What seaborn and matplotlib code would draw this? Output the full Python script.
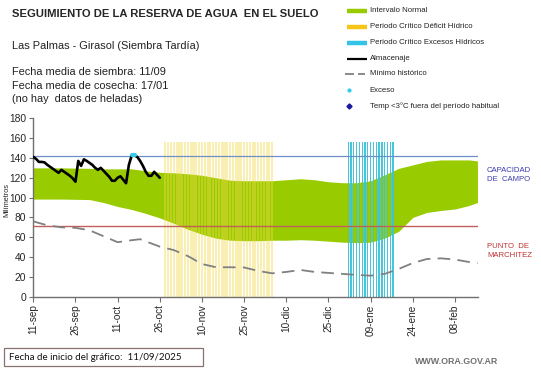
import matplotlib
matplotlib.use("Agg")
import matplotlib.pyplot as plt
from matplotlib.lines import Line2D
from matplotlib.patches import Rectangle
import seaborn as sns
import numpy as np
import pandas as pd

# ---------------- data ----------------
tick_days = [0, 15, 30, 45, 60, 75, 90, 105, 120, 135, 150]
tick_labels = ["11-sep", "26-sep", "11-oct", "26-oct", "10-nov", "25-nov",
               "10-dic", "25-dic", "09-ene", "24-ene", "08-feb"]

band_days = [0, 10, 20, 25, 30, 35, 40, 45, 50, 55, 60, 65, 70, 75, 80, 85, 90,
             95, 100, 105, 110, 115, 120, 125, 130, 135, 140, 145, 150, 155, 158]
band_upper = [130, 130, 129.5, 129, 129, 129, 127, 125.5, 125, 124, 122.5, 120,
              117.5, 117, 117, 117, 118, 119, 118, 116, 115, 115, 117, 123,
              129.5, 133, 136.5, 138, 138, 138, 137]
band_lower = [98.5, 98.5, 98, 95, 91, 88, 84, 79.5, 74, 68, 63, 59, 57, 56.5,
              56.5, 57, 57, 57.5, 57, 56, 55, 54.5, 55, 59, 66, 80, 85, 87,
              88.5, 92, 95]

min_days = [0, 5, 10, 15, 20, 25, 30, 35, 38, 45, 50, 55, 60, 65, 70, 75, 80,
            85, 90, 95, 100, 105, 110, 115, 120, 125, 130, 135, 140, 145, 150,
            155, 158]
min_hist = [76, 72, 70, 69.5, 67, 61, 55, 57, 58, 50.5, 47, 41, 33, 29.7, 29.7,
            29.5, 26, 23.6, 25, 27, 25, 24, 23, 22, 21.2, 23, 28, 34, 38, 38.7,
            37.5, 35, 34]

alm_days = list(range(0, 46))
almacenaje = [141, 139, 136, 136, 135.5, 133, 131, 129, 127, 125, 128, 126,
              124, 122, 119.5, 116, 137, 132, 138.6, 137, 135, 133, 130, 128,
              130, 127, 124, 121, 117, 117, 120, 121.5, 118, 114.5, 133, 142.5,
              142.5, 141, 137, 132, 126, 122, 122, 126, 123, 120]

exceso_days = [35, 36]
exceso_vals = [142.5, 142.5]

deficit_days = list(range(47, 86))
excesos_period_days = list(range(112, 129))
period_top = 156

capacidad = 142
marchitez = 71

# ---------------- figure ----------------
sns.set_style("white")
plt.rcParams['font.family'] = ['Liberation Sans', 'DejaVu Sans']

W, H = 541, 368
fig = plt.figure(figsize=(W / 100, H / 100), dpi=100)
ax = fig.add_axes([33.3 / W, 1 - 296.7 / H, (478.3 - 33.3) / W, (296.7 - 118.3) / H])

def fx(x):
    return x / W

def fy(y):
    return 1 - y / H

# green normal band
ax.fill_between(band_days, band_lower, band_upper, color="#99cc00", lw=0, zorder=1)

# critical periods (daily stripes)
ax.bar(deficit_days, [period_top] * len(deficit_days), width=0.75, color="#f5d94a",
       alpha=0.42, lw=0, zorder=2, align="center")
ax.bar(excesos_period_days, [period_top] * len(excesos_period_days), width=0.45,
       color="#3cc3dc", alpha=0.95, lw=0, zorder=2, align="center")

# reference lines
ax.axhline(capacidad, color="#6f8fca", lw=0.9, zorder=3)
ax.axhline(marchitez, color="#c0605a", lw=1.0, zorder=3)

# minimum historic
sns.lineplot(x=min_days, y=min_hist, ax=ax, color="#808080", lw=1.3,
             linestyle=(0, (7, 4)), zorder=4)
# almacenaje
sns.lineplot(x=alm_days, y=almacenaje, ax=ax, color="black", lw=1.9, zorder=5)
# exceso
ax.plot(exceso_days, exceso_vals, color="#33ccee", lw=3, solid_capstyle="round", zorder=6)

ax.set_xlim(0, 158.3)
ax.set_ylim(0, 180)
ax.set_yticks(range(0, 181, 20))
ax.set_xticks(tick_days)
ax.set_xticklabels(tick_labels, rotation=90, fontsize=7.2)
ax.tick_params(axis="y", labelsize=7.4, length=3, width=0.8, color="#707070",
               direction="out", pad=2, left=True)
ax.tick_params(axis="x", length=3.5, width=0.8, color="#707070", direction="out",
               pad=2, bottom=True)
for s in ["top", "right"]:
    ax.spines[s].set_visible(False)
for s in ["left", "bottom"]:
    ax.spines[s].set_color("#707070")
    ax.spines[s].set_linewidth(1.0)
ax.set_xlabel("")
ax.set_ylabel("")
ax.set_facecolor("white")

fig.text(fx(7), fy(200), "Milímetros", rotation=90, fontsize=5.3,
         ha="center", va="center")

# ---------------- texts ----------------
fig.text(fx(12), fy(14), "SEGUIMIENTO DE LA RESERVA DE AGUA  EN EL SUELO",
         fontsize=8.1, fontweight="bold", ha="left", va="center")
fig.text(fx(12), fy(46), "Las Palmas - Girasol (Siembra Tardía)", fontsize=7.9,
         ha="left", va="center", color="#222222")
fig.text(fx(12), fy(72), "Fecha media de siembra: 11/09", fontsize=7.9,
         ha="left", va="center", color="#222222")
fig.text(fx(12), fy(86), "Fecha media de cosecha: 17/01", fontsize=7.9,
         ha="left", va="center", color="#222222")
fig.text(fx(12), fy(99.5), "(no hay  datos de heladas)", fontsize=7.9,
         ha="left", va="center", color="#222222")

fig.text(fx(487), fy(170.5), "CAPACIDAD", fontsize=5.6, color="#3b3bb0", ha="left", va="center")
fig.text(fx(487), fy(179.5), "DE  CAMPO", fontsize=5.6, color="#3b3bb0", ha="left", va="center")
fig.text(fx(487), fy(246.5), "PUNTO  DE", fontsize=5.6, color="#c03030", ha="left", va="center")
fig.text(fx(487), fy(255.5), "MARCHITEZ", fontsize=5.6, color="#c03030", ha="left", va="center")

# ---------------- legend ----------------
leg_items = [
    ("Intervalo Normal", 11),
    ("Periodo Crítico Déficit Hídrico", 26.5),
    ("Periodo Crítico Excesos Hídricos", 42.5),
    ("Almacenaje", 58.5),
    ("Mínimo histórico", 73.5),
    ("Exceso", 90),
    ("Temp <3°C fuera del período habitual", 106),
]
for txt, yy in leg_items:
    fig.text(fx(369.5), fy(yy), txt, fontsize=5.55, ha="left", va="center", color="#222222")

def hline(y, color, lw, ls="-"):
    fig.add_artist(Line2D([fx(346.5), fx(366.5)], [fy(y), fy(y)], color=color, lw=lw,
                          linestyle=ls, transform=fig.transFigure, solid_capstyle="butt"))

hline(11, "#99cc00", 3.2)
hline(26.5, "#f5c518", 3.2)
hline(42.5, "#33c3e6", 3.2)
hline(58.5, "black", 1.6)
fig.add_artist(Line2D([fx(345), fx(354)], [fy(73.5), fy(73.5)], color="#808080", lw=1.3,
                      transform=fig.transFigure, solid_capstyle="butt"))
fig.add_artist(Line2D([fx(358), fx(365)], [fy(73.5), fy(73.5)], color="#808080", lw=1.3,
                      transform=fig.transFigure, solid_capstyle="butt"))
fig.add_artist(Line2D([fx(349)], [fy(90)], marker="o", ms=2.0, color="#33ccee", lw=0,
                      transform=fig.transFigure))
fig.add_artist(Line2D([fx(349)], [fy(106)], marker="D", ms=2.6, color="#1a1aa0", lw=0,
                      transform=fig.transFigure))

# ---------------- footer ----------------
fig.add_artist(Rectangle((fx(3.5), fy(366)), (203 - 3.5) / W, (366 - 348) / H,
                         transform=fig.transFigure, fill=False, ec="#8a7070", lw=0.9))
fig.text(fx(9), fy(357), "Fecha de inicio del gráfico:  11/09/2025", fontsize=7.0,
         ha="left", va="center", family=["Lato", "DejaVu Sans"], color="#111111")
fig.text(fx(498), fy(361.5), "WWW.ORA.GOV.AR", fontsize=6.4, fontweight="bold",
         ha="right", va="center", color="#707070")

fig.savefig("out.png", dpi=100, facecolor="white")
